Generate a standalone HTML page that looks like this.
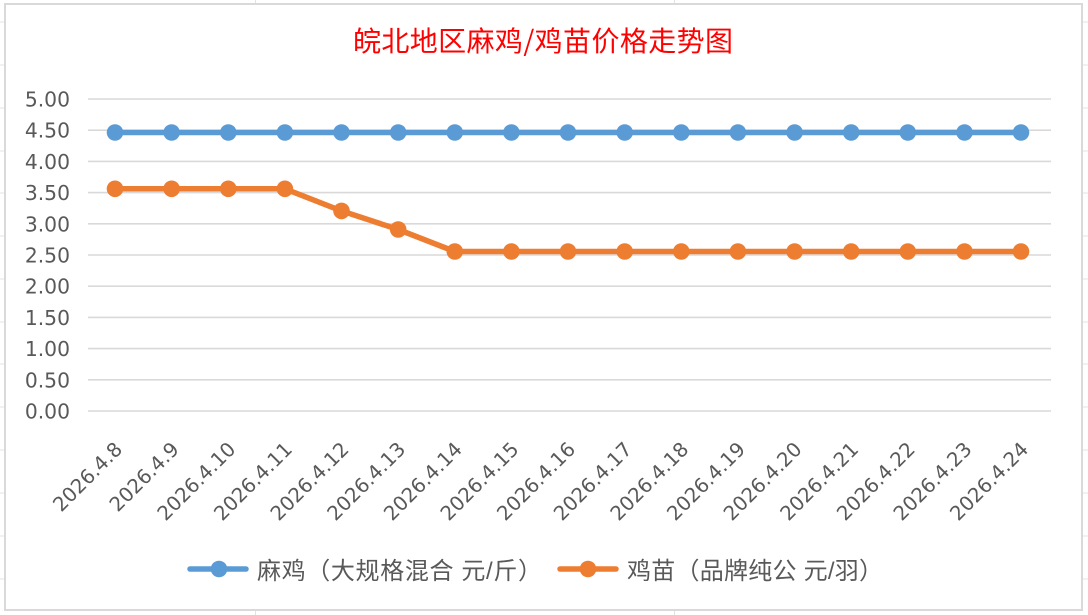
<!DOCTYPE html>
<html><head><meta charset="utf-8"><style>
html,body{margin:0;padding:0;background:#fff;}
svg{display:block;}
</style></head><body>
<svg width="1088" height="615" viewBox="0 0 1088 615" xmlns="http://www.w3.org/2000/svg">
<rect width="1088" height="615" fill="#fff"/>
<!-- faint worksheet cell lines -->
<g stroke="#e3e3e3" stroke-width="1">
<line x1="255.5" y1="0" x2="255.5" y2="615"/>
<line x1="674.5" y1="0" x2="674.5" y2="615"/>
<line x1="0" y1="22" x2="1088" y2="22"/><line x1="0" y1="65" x2="1088" y2="65"/>
<line x1="0" y1="108" x2="1088" y2="108"/><line x1="0" y1="151" x2="1088" y2="151"/>
<line x1="0" y1="193" x2="1088" y2="193"/><line x1="0" y1="236" x2="1088" y2="236"/>
<line x1="0" y1="279" x2="1088" y2="279"/><line x1="0" y1="322" x2="1088" y2="322"/>
<line x1="0" y1="364" x2="1088" y2="364"/><line x1="0" y1="407" x2="1088" y2="407"/>
<line x1="0" y1="450" x2="1088" y2="450"/><line x1="0" y1="493" x2="1088" y2="493"/>
<line x1="0" y1="536" x2="1088" y2="536"/><line x1="0" y1="579" x2="1088" y2="579"/>
</g>
<!-- chart area -->
<rect x="5" y="4" width="1077" height="606" fill="#fff" stroke="#d9d9d9" stroke-width="2"/>
<!-- title -->
<text x="543" y="51" text-anchor="middle" font-family="'Noto Sans CJK SC','WenQuanYi Zen Hei',sans-serif" font-size="28" fill="#ff0000" textLength="380" lengthAdjust="spacing">皖北地区麻鸡/鸡苗价格走势图</text>
<!-- gridlines -->
<g stroke="#d9d9d9" stroke-width="1.6">
<line x1="88" y1="411" x2="1051" y2="411"/>
<line x1="88" y1="379.8" x2="1051" y2="379.8"/>
<line x1="88" y1="348.6" x2="1051" y2="348.6"/>
<line x1="88" y1="317.4" x2="1051" y2="317.4"/>
<line x1="88" y1="286.2" x2="1051" y2="286.2"/>
<line x1="88" y1="255" x2="1051" y2="255"/>
<line x1="88" y1="223.8" x2="1051" y2="223.8"/>
<line x1="88" y1="192.6" x2="1051" y2="192.6"/>
<line x1="88" y1="161.4" x2="1051" y2="161.4"/>
<line x1="88" y1="130.2" x2="1051" y2="130.2"/>
<line x1="88" y1="99" x2="1051" y2="99"/>
</g>
<!-- y labels -->
<g font-family="'DejaVu Sans','Liberation Sans',sans-serif" font-size="20.3" fill="#595959" text-anchor="end">
<text x="70" y="418.5">0.00</text>
<text x="70" y="387.3">0.50</text>
<text x="70" y="356.1">1.00</text>
<text x="70" y="324.9">1.50</text>
<text x="70" y="293.7">2.00</text>
<text x="70" y="262.5">2.50</text>
<text x="70" y="231.3">3.00</text>
<text x="70" y="200.1">3.50</text>
<text x="70" y="168.9">4.00</text>
<text x="70" y="137.7">4.50</text>
<text x="70" y="106.5">5.00</text>
</g>
<!-- series blue -->
<polyline fill="none" stroke="#5b9bd5" stroke-width="5.5" stroke-linejoin="round" stroke-linecap="round"
points="115,132.5 171.6,132.5 228.3,132.5 284.9,132.5 341.5,132.5 398.2,132.5 454.8,132.5 511.4,132.5 568,132.5 624.7,132.5 681.3,132.5 737.9,132.5 794.6,132.5 851.2,132.5 907.8,132.5 964.5,132.5 1021,132.5"/>
<g fill="#5b9bd5">
<circle cx="115" cy="132.5" r="8.3"/><circle cx="171.6" cy="132.5" r="8.3"/><circle cx="228.3" cy="132.5" r="8.3"/>
<circle cx="284.9" cy="132.5" r="8.3"/><circle cx="341.5" cy="132.5" r="8.3"/><circle cx="398.2" cy="132.5" r="8.3"/>
<circle cx="454.8" cy="132.5" r="8.3"/><circle cx="511.4" cy="132.5" r="8.3"/><circle cx="568" cy="132.5" r="8.3"/>
<circle cx="624.7" cy="132.5" r="8.3"/><circle cx="681.3" cy="132.5" r="8.3"/><circle cx="737.9" cy="132.5" r="8.3"/>
<circle cx="794.6" cy="132.5" r="8.3"/><circle cx="851.2" cy="132.5" r="8.3"/><circle cx="907.8" cy="132.5" r="8.3"/>
<circle cx="964.5" cy="132.5" r="8.3"/><circle cx="1021" cy="132.5" r="8.3"/>
</g>
<!-- series orange -->
<polyline fill="none" stroke="#ed7d31" stroke-width="5.5" stroke-linejoin="round" stroke-linecap="round"
points="115,188.8 171.6,188.8 228.3,188.8 284.9,188.8 341.5,210.9 398.2,229.5 454.8,251.5 511.4,251.5 568,251.5 624.7,251.5 681.3,251.5 737.9,251.5 794.6,251.5 851.2,251.5 907.8,251.5 964.5,251.5 1021,251.5"/>
<g fill="#ed7d31">
<circle cx="115" cy="188.8" r="8.3"/><circle cx="171.6" cy="188.8" r="8.3"/><circle cx="228.3" cy="188.8" r="8.3"/>
<circle cx="284.9" cy="188.8" r="8.3"/><circle cx="341.5" cy="210.9" r="8.3"/><circle cx="398.2" cy="229.5" r="8.3"/>
<circle cx="454.8" cy="251.5" r="8.3"/><circle cx="511.4" cy="251.5" r="8.3"/><circle cx="568" cy="251.5" r="8.3"/>
<circle cx="624.7" cy="251.5" r="8.3"/><circle cx="681.3" cy="251.5" r="8.3"/><circle cx="737.9" cy="251.5" r="8.3"/>
<circle cx="794.6" cy="251.5" r="8.3"/><circle cx="851.2" cy="251.5" r="8.3"/><circle cx="907.8" cy="251.5" r="8.3"/>
<circle cx="964.5" cy="251.5" r="8.3"/><circle cx="1021" cy="251.5" r="8.3"/>
</g>
<!-- x labels -->
<g font-family="'DejaVu Sans','Liberation Sans',sans-serif" font-size="19.8" fill="#595959" text-anchor="end">
<text x="123.5" y="450.5" transform="rotate(-45 123.5 450.5)">2026.4.8</text>
<text x="180.1" y="450.5" transform="rotate(-45 180.1 450.5)">2026.4.9</text>
<text x="236.8" y="450.5" transform="rotate(-45 236.8 450.5)">2026.4.10</text>
<text x="293.4" y="450.5" transform="rotate(-45 293.4 450.5)">2026.4.11</text>
<text x="350" y="450.5" transform="rotate(-45 350 450.5)">2026.4.12</text>
<text x="406.7" y="450.5" transform="rotate(-45 406.7 450.5)">2026.4.13</text>
<text x="463.3" y="450.5" transform="rotate(-45 463.3 450.5)">2026.4.14</text>
<text x="519.9" y="450.5" transform="rotate(-45 519.9 450.5)">2026.4.15</text>
<text x="576.5" y="450.5" transform="rotate(-45 576.5 450.5)">2026.4.16</text>
<text x="633.2" y="450.5" transform="rotate(-45 633.2 450.5)">2026.4.17</text>
<text x="689.8" y="450.5" transform="rotate(-45 689.8 450.5)">2026.4.18</text>
<text x="746.4" y="450.5" transform="rotate(-45 746.4 450.5)">2026.4.19</text>
<text x="803.1" y="450.5" transform="rotate(-45 803.1 450.5)">2026.4.20</text>
<text x="859.7" y="450.5" transform="rotate(-45 859.7 450.5)">2026.4.21</text>
<text x="916.3" y="450.5" transform="rotate(-45 916.3 450.5)">2026.4.22</text>
<text x="973" y="450.5" transform="rotate(-45 973 450.5)">2026.4.23</text>
<text x="1029.5" y="450.5" transform="rotate(-45 1029.5 450.5)">2026.4.24</text>
</g>
<!-- legend -->
<line x1="190" y1="569" x2="246" y2="569" stroke="#5b9bd5" stroke-width="5.5" stroke-linecap="round"/>
<circle cx="219" cy="569" r="8.3" fill="#5b9bd5"/>
<text x="257" y="579" font-family="'Liberation Sans','Noto Sans CJK SC',sans-serif" font-size="24" fill="#595959" textLength="285" lengthAdjust="spacing">麻鸡（大规格混合 元/斤）</text>
<line x1="560" y1="569" x2="616" y2="569" stroke="#ed7d31" stroke-width="5.5" stroke-linecap="round"/>
<circle cx="588" cy="569" r="8.3" fill="#ed7d31"/>
<text x="627" y="579" font-family="'Liberation Sans','Noto Sans CJK SC',sans-serif" font-size="24" fill="#595959" textLength="256" lengthAdjust="spacing">鸡苗（品牌纯公 元/羽）</text>
</svg>
</body></html>
